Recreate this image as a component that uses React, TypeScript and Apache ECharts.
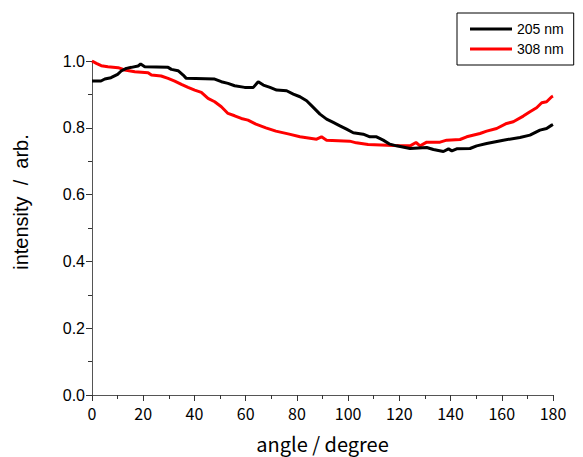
import React, { useEffect, useRef } from "react";
import * as echarts from "echarts";

const xTicks = [0, 20, 40, 60, 80, 100, 120, 140, 160, 180];
const yTicks = [0.0, 0.2, 0.4, 0.6, 0.8, 1.0];

const angles205 = [0, 3.5, 5, 7.4, 10, 11.4, 13.4, 15.4, 18, 19, 20.6, 29.7, 31, 33.6, 35.6, 36.8, 47.9, 50.5, 53.1, 55.7, 59.6, 63, 64.9, 66.9, 69.5, 72.1, 76, 78.6, 81.2, 83.8, 86.4, 89, 91.6, 94.2, 96.8, 99.4, 102, 105.9, 108.5, 111.1, 113.7, 116.3, 118.9, 124.2, 130.7, 133.3, 137.2, 139.2, 140.5, 142.4, 147.6, 150.2, 154.1, 160.6, 167.1, 171, 174.9, 177.5, 179.5, 180];
const values205 = [0.940, 0.940, 0.946, 0.950, 0.960, 0.970, 0.978, 0.981, 0.985, 0.991, 0.983, 0.981, 0.975, 0.971, 0.958, 0.948, 0.946, 0.938, 0.933, 0.926, 0.921, 0.921, 0.938, 0.928, 0.921, 0.913, 0.911, 0.901, 0.893, 0.881, 0.861, 0.841, 0.826, 0.816, 0.806, 0.796, 0.785, 0.781, 0.773, 0.773, 0.763, 0.751, 0.746, 0.738, 0.741, 0.735, 0.729, 0.737, 0.731, 0.737, 0.738, 0.746, 0.753, 0.763, 0.771, 0.778, 0.793, 0.798, 0.808, 0.810];

const angles308 = [0, 1.7, 3.6, 6.2, 10.2, 12.8, 16.7, 21.9, 23.2, 27, 29.7, 32.3, 34.9, 37.5, 40.1, 42.7, 45.3, 47.9, 50.5, 53.1, 55.7, 58.3, 60.9, 64, 67.9, 71.8, 77, 81.2, 87.7, 89.6, 91.6, 100.6, 103.2, 107.8, 120.2, 124.2, 126.5, 128.1, 130.7, 135.9, 138.5, 143.7, 146.3, 151.5, 154.1, 158, 161.9, 164.5, 168.4, 171, 173.6, 175.6, 177.5, 179.5, 180];
const values308 = [1.0, 0.993, 0.986, 0.983, 0.98, 0.973, 0.968, 0.965, 0.958, 0.955, 0.948, 0.94, 0.93, 0.921, 0.913, 0.906, 0.888, 0.878, 0.863, 0.843, 0.836, 0.828, 0.823, 0.811, 0.8, 0.79, 0.781, 0.773, 0.766, 0.773, 0.763, 0.76, 0.755, 0.75, 0.746, 0.746, 0.756, 0.746, 0.757, 0.757, 0.763, 0.765, 0.773, 0.783, 0.79, 0.798, 0.813, 0.818, 0.835, 0.848, 0.86, 0.875, 0.878, 0.893, 0.895];

const seriesNames = ["205 nm", "308 nm"];
const seriesColors = ["#000000", "#ff0000"];
const xTitle = "angle / degree";
const yTitle = "intensity  /  arb.";

export default function App() {
  const ref = useRef<HTMLDivElement>(null);
  useEffect(() => {
    if (!ref.current) return;
    const chart = echarts.init(ref.current, null, { renderer: "svg" });
    const zip = (xs: number[], ys: number[]) => xs.map((x, i) => [x, ys[i]]);
    chart.setOption({
      animation: false,
      backgroundColor: "#ffffff",
      grid: { left: 92, right: 30, top: 61, bottom: 62, outerBoundsMode: "none", containLabel: false },
      graphic: [
        {
          type: "text",
          x: 21,
          y: 202,
          rotation: Math.PI / 2,
          style: {
            text: yTitle,
            textAlign: "center",
            textVerticalAlign: "middle",
            fontFamily: "Liberation Sans",
            fontSize: 20,
            fill: "#000",
          },
        },
      ],
      legend: {
        orient: "vertical",
        left: 457,
        top: 13,
        width: 123,
        padding: [9, 10, 9, 13],
        borderColor: "#000",
        borderWidth: 1,
        borderRadius: 0,
        itemWidth: 42,
        itemHeight: 3,
        itemGap: 6,
        icon: "rect",
        textStyle: { fontFamily: "Liberation Sans", fontSize: 14, color: "#000" },
        data: seriesNames,
      },
      xAxis: {
        type: "value",
        min: 0,
        max: 180,
        interval: 20,
        name: xTitle,
        nameLocation: "middle",
        nameGap: 38,
        nameTextStyle: { fontFamily: "Noto Sans CJK JP", fontSize: 20, color: "#000" },
        axisLine: { show: true, lineStyle: { color: "#555", width: 1 } },
        axisTick: { show: true, inside: false, length: 6, lineStyle: { color: "#333" } },
        minorTick: { show: true, splitNumber: 2, length: 4, lineStyle: { color: "#333" } },
        splitLine: { show: false },
        axisLabel: {
          fontFamily: "Noto Sans CJK JP",
          fontSize: 16,
          color: "#000",
          margin: 10,
          formatter: (v: number) => (xTicks.includes(v) ? String(v) : ""),
        },
      },
      yAxis: {
        type: "value",
        min: 0,
        max: 1.0,
        interval: 0.2,
        axisLine: { show: true, lineStyle: { color: "#555", width: 1 } },
        axisTick: { show: true, inside: false, length: 6, lineStyle: { color: "#333" } },
        minorTick: { show: true, splitNumber: 2, length: 4, lineStyle: { color: "#333" } },
        splitLine: { show: false },
        axisLabel: {
          fontFamily: "Liberation Sans",
          fontSize: 16,
          color: "#000",
          margin: 7,
          formatter: (v: number) => {
            const t = yTicks.find((y) => Math.abs(y - v) < 1e-6);
            return t === undefined ? "" : t.toFixed(1);
          },
        },
      },
      series: [
        {
          name: seriesNames[0],
          type: "line",
          data: zip(angles205, values205),
          symbol: "none",
          clip: false,
          lineStyle: { color: seriesColors[0], width: 3 },
          itemStyle: { color: seriesColors[0] },
          z: 3,
        },
        {
          name: seriesNames[1],
          type: "line",
          data: zip(angles308, values308),
          symbol: "none",
          clip: false,
          lineStyle: { color: seriesColors[1], width: 3 },
          itemStyle: { color: seriesColors[1] },
          z: 2,
        },
      ],
    });
    return () => chart.dispose();
  }, []);
  return <div ref={ref} style={{ width: 583, height: 457, position: "fixed", left: 0, top: 0 }} />;
}
